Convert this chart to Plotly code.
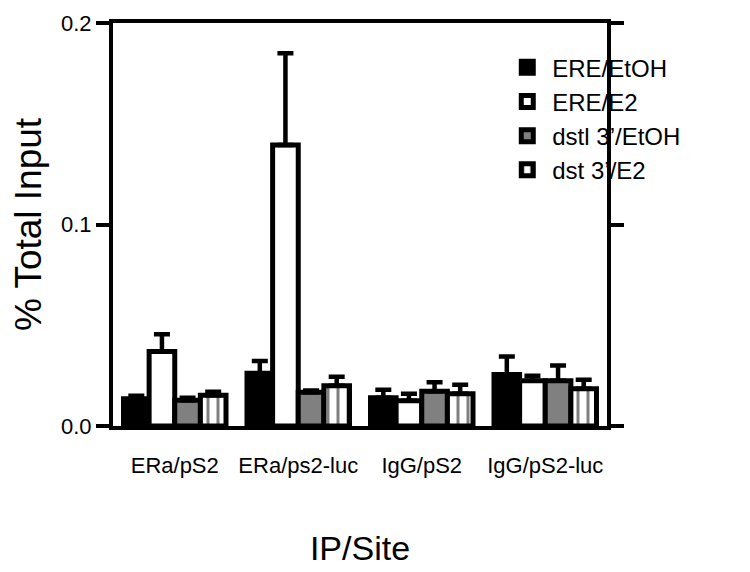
import plotly.graph_objects as go

categories = ["ERa/pS2", "ERa/ps2-luc", "IgG/pS2", "IgG/pS2-luc"]
series_names = ["ERE/EtOH", "ERE/E2", "dstl 3\u2019/EtOH", "dst 3\u2019/E2"]
ere_etoh = [0.0135, 0.0262, 0.0140, 0.0255]
ere_etoh_err = [0.0015, 0.0060, 0.0040, 0.0090]
ere_e2 = [0.0370, 0.1395, 0.0125, 0.0225]
ere_e2_err = [0.0085, 0.0455, 0.0035, 0.0025]
dstl_etoh = [0.0128, 0.0168, 0.0172, 0.0225]
dstl_etoh_err = [0.0012, 0.0008, 0.0045, 0.0075]
dst_e2 = [0.0152, 0.0200, 0.0160, 0.0185]
dst_e2_err = [0.0018, 0.0045, 0.0045, 0.0045]

values = [ere_etoh, ere_e2, dstl_etoh, dst_e2]
errors = [ere_etoh_err, ere_e2_err, dstl_etoh_err, dst_e2_err]
fills = ["black", "white", "#808080", "white"]
patterns = [None, None, None, "|"]

FONT = "Liberation Sans, Arial, sans-serif"

fig = go.Figure()
for name, vals, errs, fill, pat in zip(series_names, values, errors, fills, patterns):
    marker = dict(color=fill, line=dict(color="black", width=5))
    if pat:
        marker["pattern"] = dict(shape=pat, fgcolor="black", bgcolor="white",
                                 size=10, solidity=0.3, fillmode="overlay")
    fig.add_trace(go.Bar(
        x=categories, y=vals, name=name, marker=marker,
        error_y=dict(type="data", array=errs, arrayminus=[0] * len(errs),
                     symmetric=False, color="black", thickness=4.5, width=8),
    ))

fig.update_layout(
    width=750, height=572,
    margin=dict(l=105, r=151, t=15, b=154, autoexpand=False),
    paper_bgcolor="white", plot_bgcolor="white",
    barmode="group", bargap=0.17, bargroupgap=0,
    font=dict(family=FONT, color="black"),
    showlegend=True,
    legend=dict(x=0.788, y=0.945, xanchor="left", yanchor="top",
                font=dict(size=24, family=FONT), bgcolor="rgba(0,0,0,0)",
                itemwidth=40, tracegroupgap=0),
    xaxis=dict(
        showline=True, linecolor="black", linewidth=4, mirror=True,
        ticks="", showgrid=False, tickfont=dict(size=22, family=FONT),
        ticklabelstandoff=17, automargin=False,
        title=dict(text="IP/Site", font=dict(size=34, family=FONT), standoff=60),
    ),
    yaxis=dict(
        range=[0, 0.2], tickvals=[0, 0.1, 0.2], ticktext=["0.0", "0.1", "0.2"],
        showline=True, linecolor="black", linewidth=4, mirror="ticks",
        ticks="outside", ticklen=13, tickwidth=4, tickcolor="black",
        showgrid=False, zeroline=False, tickfont=dict(size=22, family=FONT),
        automargin=False, ticklabeloverflow="allow",
        title=dict(text="% Total Input", font=dict(size=37, family=FONT), standoff=10),
    ),
)

fig.write_html("out.html")
